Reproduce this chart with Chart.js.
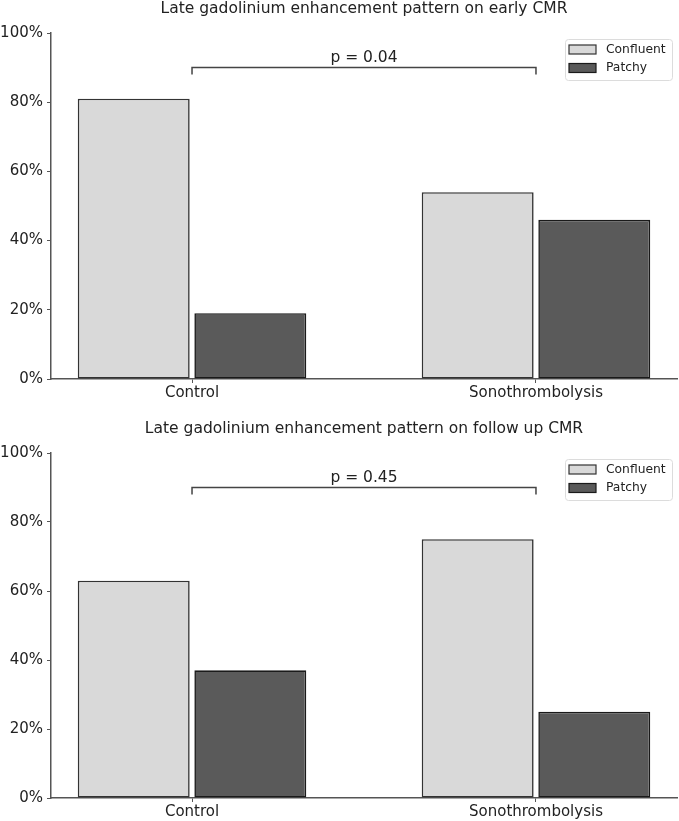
<!DOCTYPE html>
<html>
<head>
<meta charset="utf-8">
<script src="https://cdn.jsdelivr.net/npm/chart.js@4.4.1/dist/chart.umd.min.js"></script>
<style>
  html, body { margin: 0; padding: 0; background: #fff; }
  .panel { position: absolute; left: 0; width: 679px; }
  #top { top: 0; height: 410px; }
  #bottom { top: 420px; height: 401px; }
</style>
</head>
<body>
<div class="panel" id="top"><canvas id="earlyChart"></canvas></div>
<div class="panel" id="bottom"><canvas id="followChart"></canvas></div>
<script>
// values (percent of patients)
const categories = ['Control', 'Sonothrombolysis'];
const seriesNames = ['Confluent', 'Patchy'];
const earlyConfluent = [81, 54];
const earlyPatchy = [19, 46];
const followConfluent = [63, 75];
const followPatchy = [37, 25];
const yTicks = [0, 20, 40, 60, 80, 100];
const pLabels = ['p = 0.04', 'p = 0.45'];
const bracketLevel = 90;

const FONT = '"DejaVu Sans", sans-serif';
const TEXT = '#222222';
const SPINE = '#555555';

// title centred over the plot area, like matplotlib's ax.set_title
const plotTitle = {
    id: 'plotTitle',
    afterDraw(chart, args, opts) {
        const ctx = chart.ctx;
        const a = chart.chartArea;
        ctx.save();
        ctx.fillStyle = TEXT;
        ctx.font = '15.5px ' + FONT;
        ctx.textAlign = 'center';
        ctx.textBaseline = 'alphabetic';
        ctx.fillText(opts.text, (a.left + a.right) / 2, a.top - 20);
        ctx.restore();
    }
};

// legend box drawn inside the plot, top right
const boxLegend = {
    id: 'boxLegend',
    afterDraw(chart) {
        const ctx = chart.ctx;
        const a = chart.chartArea;
        const x = a.right - 112, y = a.top + 6, w = 107, h = 41;
        ctx.save();
        ctx.fillStyle = 'rgba(255,255,255,0.85)';
        ctx.strokeStyle = '#dcdcdc';
        ctx.lineWidth = 1;
        ctx.beginPath();
        ctx.roundRect(x + 0.5, y + 0.5, w, h, 3);
        ctx.fill();
        ctx.stroke();
        ctx.font = '12.3px ' + FONT;
        ctx.textBaseline = 'middle';
        chart.data.datasets.forEach((ds, i) => {
            const sy = y + 6 + i * 18.5;
            ctx.fillStyle = ds.backgroundColor;
            ctx.fillRect(x + 4, sy, 27, 9);
            ctx.strokeStyle = ds.borderColor;
            ctx.lineWidth = 1.2;
            ctx.strokeRect(x + 4, sy, 27, 9);
            ctx.fillStyle = TEXT;
            ctx.fillText(ds.label, x + 41, sy + 4.5);
        });
        ctx.restore();
    }
};

// significance bracket between the two groups
const pBracket = {
    id: 'pBracket',
    afterDatasetsDraw(chart, args, opts) {
        const ctx = chart.ctx;
        const xs = chart.scales.x, ys = chart.scales.y;
        const x0 = xs.getPixelForValue(0);
        const x1 = xs.getPixelForValue(1);
        const yl = ys.getPixelForValue(bracketLevel);
        const yd = ys.getPixelForValue(bracketLevel - 2);
        ctx.save();
        ctx.strokeStyle = '#444444';
        ctx.lineWidth = 1.5;
        ctx.beginPath();
        ctx.moveTo(x0, yd);
        ctx.lineTo(x0, yl);
        ctx.lineTo(x1, yl);
        ctx.lineTo(x1, yd);
        ctx.stroke();
        ctx.fillStyle = TEXT;
        ctx.font = '15.5px ' + FONT;
        ctx.textAlign = 'center';
        ctx.textBaseline = 'alphabetic';
        ctx.fillText(opts.text, (x0 + x1) / 2, yl - 6);
        ctx.restore();
    }
};

function makeChart(canvasId, title, confluent, patchy, pText, xAxisHeight) {
    const ctx = document.getElementById(canvasId);
    const toPoints = arr => arr.map((v, i) => ({ x: i, y: v }));

    return new Chart(ctx, {
        type: 'bar',
        data: {
            datasets: [{
                label: seriesNames[0],
                data: toPoints(confluent),
                backgroundColor: '#d9d9d9',
                borderColor: '#333333',
                borderWidth: 1.6,
                borderSkipped: false
            }, {
                label: seriesNames[1],
                data: toPoints(patchy),
                backgroundColor: '#5a5a5a',
                borderColor: '#1a1a1a',
                borderWidth: 1.6,
                borderSkipped: false
            }]
        },
        options: {
            responsive: true,
            maintainAspectRatio: false,
            animation: false,
            categoryPercentage: 0.678,
            barPercentage: 0.96,
            layout: {
                padding: { left: 0, right: 2, top: 33, bottom: 0 }
            },
            plugins: {
                legend: { display: false },
                tooltip: { enabled: false },
                plotTitle: { text: title },
                pBracket: { text: pText }
            },
            scales: {
                x: {
                    type: 'linear',
                    min: -0.41,
                    max: 1.41,
                    offset: false,
                    afterFit: s => { s.height = xAxisHeight; },
                    afterBuildTicks: s => { s.ticks = categories.map((c, i) => ({ value: i })); },
                    ticks: {
                        autoSkip: false,
                        maxRotation: 0,
                        padding: 1,
                        color: TEXT,
                        font: { family: FONT, size: 15 },
                        callback: v => categories[v] || ''
                    },
                    grid: {
                        offset: false,
                        drawOnChartArea: false,
                        drawTicks: true,
                        tickLength: 4,
                        color: SPINE
                    },
                    border: { color: SPINE, width: 1.5 }
                },
                y: {
                    min: 0,
                    max: 100,
                    afterFit: s => { s.width = 51; },
                    afterBuildTicks: s => { s.ticks = yTicks.map(v => ({ value: v })); },
                    ticks: {
                        padding: 4,
                        color: TEXT,
                        font: { family: FONT, size: 15 },
                        callback: v => v + '%'
                    },
                    grid: {
                        drawOnChartArea: false,
                        drawTicks: true,
                        tickLength: 4,
                        color: SPINE
                    },
                    border: { color: SPINE, width: 1.5 }
                }
            }
        },
        plugins: [pBracket, boxLegend, plotTitle]
    });
}

makeChart('earlyChart', 'Late gadolinium enhancement pattern on early CMR',
    earlyConfluent, earlyPatchy, pLabels[0], 31);
makeChart('followChart', 'Late gadolinium enhancement pattern on follow up CMR',
    followConfluent, followPatchy, pLabels[1], 23);
</script>
</body>
</html>
